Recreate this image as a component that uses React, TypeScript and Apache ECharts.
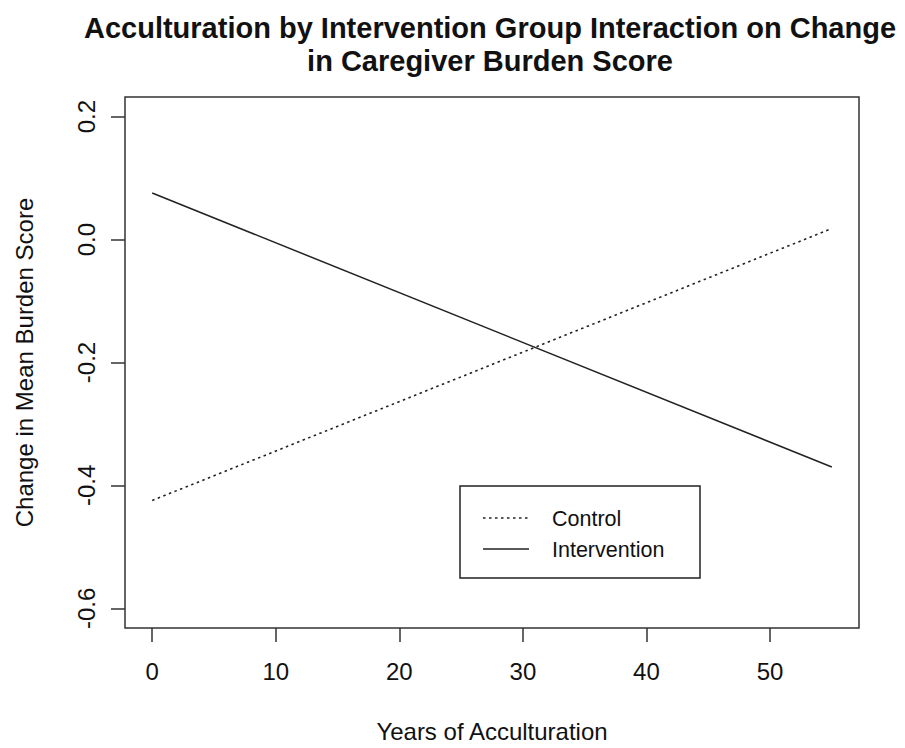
import React, { useEffect, useRef } from "react";
import * as echarts from "echarts";

const years = [0, 55];
const controlValues = [-0.4245, 0.018];
const interventionValues = [0.0758, -0.37];
const xTicks = [0, 10, 20, 30, 40, 50];
const yTicks = [-0.6, -0.4, -0.2, 0.0, 0.2];
const seriesNames = ["Control", "Intervention"];

const FONT = "'Liberation Sans', Arial, sans-serif";
const INK = "#111";
const LINE = "#222";

export default function App() {
  const ref = useRef<HTMLDivElement>(null);
  useEffect(() => {
    if (!ref.current) return;
    const chart = echarts.init(ref.current, null, { renderer: "svg" });
    const toPairs = (vals: number[]) => years.map((x, i) => [x, vals[i]]);
    chart.setOption({
      animation: false,
      backgroundColor: "#fff",
      title: {
        text: "Acculturation by Intervention Group Interaction on Change\nin Caregiver Burden Score",
        left: 490,
        top: 11,
        padding: 0,
        textAlign: "center",
        textStyle: {
          fontFamily: FONT,
          fontSize: 29,
          fontWeight: "bold",
          color: INK,
          lineHeight: 33,
        },
      },
      grid: {
        left: 125,
        right: 46,
        top: 97,
        bottom: 119,
        show: true,
        borderColor: "#333",
        borderWidth: 1.5,
        backgroundColor: "transparent",
      },
      xAxis: {
        type: "value",
        min: -2.2,
        max: 57.2,
        name: "Years of Acculturation",
        nameLocation: "middle",
        nameGap: 91,
        nameTextStyle: { fontFamily: FONT, fontSize: 24, color: INK },
        axisLine: { show: false, onZero: false },
        splitLine: { show: false },
        axisTick: {
          show: true,
          customValues: xTicks,
          length: 14,
          lineStyle: { color: "#333", width: 1.5 },
        },
        axisLabel: {
          customValues: xTicks,
          margin: 31,
          fontFamily: FONT,
          fontSize: 24,
          color: INK,
          formatter: (v: number) => String(v),
        },
      },
      yAxis: {
        type: "value",
        min: -0.632,
        max: 0.232,
        name: "Change in Mean Burden Score",
        nameLocation: "middle",
        nameGap: 89,
        nameTextStyle: { fontFamily: FONT, fontSize: 24, color: INK },
        axisLine: { show: false, onZero: false },
        splitLine: { show: false },
        axisTick: {
          show: true,
          customValues: yTicks,
          length: 14,
          lineStyle: { color: "#333", width: 1.5 },
        },
        axisLabel: {
          customValues: yTicks,
          rotate: 90,
          align: "center",
          verticalAlign: "bottom",
          margin: 27,
          fontFamily: FONT,
          fontSize: 24,
          color: INK,
          formatter: (v: number) => v.toFixed(1),
        },
      },
      series: [
        {
          name: seriesNames[0],
          type: "line",
          data: toPairs(controlValues),
          showSymbol: false,
          symbol: "none",
          lineStyle: { color: LINE, width: 1.6, type: [2.5, 3.5] },
        },
        {
          name: seriesNames[1],
          type: "line",
          data: toPairs(interventionValues),
          showSymbol: false,
          symbol: "none",
          lineStyle: { color: LINE, width: 1.5, type: "solid" },
        },
      ],
      graphic: [
        {
          type: "rect",
          shape: { x: 460, y: 486, width: 240, height: 92 },
          style: { fill: "#fff", stroke: "#222", lineWidth: 1.5 },
          z: 10,
        },
        {
          type: "line",
          shape: { x1: 483, y1: 518, x2: 529, y2: 518 },
          style: { stroke: LINE, lineWidth: 1.6, lineDash: [2.5, 3.5] },
          z: 11,
        },
        {
          type: "line",
          shape: { x1: 483, y1: 549, x2: 529, y2: 549 },
          style: { stroke: LINE, lineWidth: 1.5 },
          z: 11,
        },
        {
          type: "text",
          x: 552,
          y: 519,
          style: {
            text: seriesNames[0],
            fontFamily: FONT,
            fontSize: 21.5,
            fill: INK,
            verticalAlign: "middle",
            align: "left",
          },
          z: 11,
        },
        {
          type: "text",
          x: 552,
          y: 550,
          style: {
            text: seriesNames[1],
            fontFamily: FONT,
            fontSize: 21.5,
            fill: INK,
            verticalAlign: "middle",
            align: "left",
          },
          z: 11,
        },
      ],
    });
    return () => chart.dispose();
  }, []);
  return (
    <div
      ref={ref}
      style={{ position: "fixed", left: 0, top: 0, width: 905, height: 748 }}
    />
  );
}
